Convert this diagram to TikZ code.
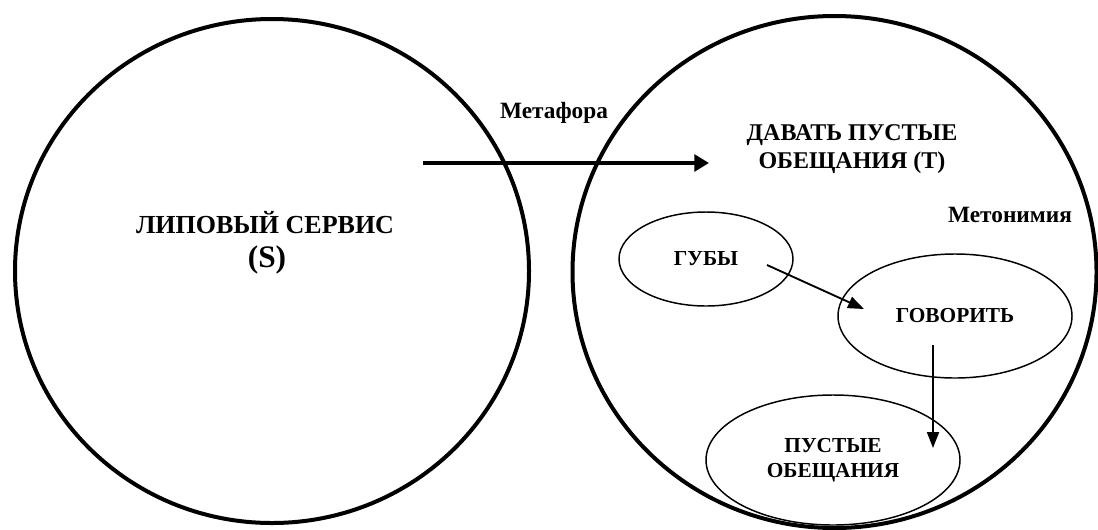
\documentclass[tikz,border=0pt]{standalone}
\usepackage{fontspec}
\setmainfont{Liberation Serif}
\usetikzlibrary{shapes.geometric,arrows.meta}
\begin{document}
\begin{tikzpicture}[x=0.75pt,y=-0.75pt,
  domainbox/.style={ellipse, draw, line width=3pt, inner sep=0pt, outer sep=0pt},
  conceptbox/.style={ellipse, draw, line width=1.1pt, inner sep=0pt, outer sep=0pt,
    align=center, font=\bfseries\fontsize{16}{19}\selectfont},
  lbl/.style={inner sep=0pt, align=center, font=\bfseries\fontsize{17.5}{21}\selectfont},
  bigarrow/.style={line width=2.8pt, -{Triangle[length=11pt,width=12.5pt]}},
  smallarrow/.style={line width=1.4pt, -{Triangle[length=12pt,width=9pt]}}]
\useasboundingbox (0,0) rectangle (1098,529);

% source and target domains
\node[domainbox, minimum width=385.5pt, minimum height=378pt] (src) at (272,271) {};
\node[domainbox, minimum width=393pt, minimum height=384pt] (tgt) at (834.5,272) {};

% domain labels
\node[lbl, font=\bfseries\fontsize{19.5}{22}\selectfont] (srclbl) at (265,223) {ЛИПОВЫЙ СЕРВИС};
\node[lbl, font=\bfseries\fontsize{23.5}{26}\selectfont] (srcS) at (267,260) {(S)};
\node[lbl, font=\bfseries\fontsize{18}{21}\selectfont] (tgtlbl) at (852,149) {ДАВАТЬ ПУСТЫЕ\\ОБЕЩАНИЯ (T)};
\node[lbl] (meta) at (554,113) {Метафора};
\node[lbl] (meto) at (1010,215) {Метонимия};

% metonymic chain
\node[conceptbox, minimum width=130.5pt, minimum height=70.5pt] (lips) at (706,259) {ГУБЫ};
\node[conceptbox, minimum width=175.5pt, minimum height=93pt] (speak) at (955,316) {ГОВОРИТЬ};
\node[conceptbox, minimum width=190.5pt, minimum height=97.5pt] (promise) at (833,460) {ПУСТЫЕ\\ОБЕЩАНИЯ};

% connectors
\coordinate (mfrom) at (423,163);
\coordinate (mto) at (709,163);
\draw[bigarrow] (mfrom) -- (mto);

\coordinate (lipsout) at (767,265);
\coordinate (speakin) at (864,309);
\draw[smallarrow] (lipsout) -- (speakin);

\coordinate (speakout) at (933,345);
\coordinate (promisein) at (933,448);
\draw[smallarrow] (speakout) -- (promisein);
\end{tikzpicture}
\end{document}
